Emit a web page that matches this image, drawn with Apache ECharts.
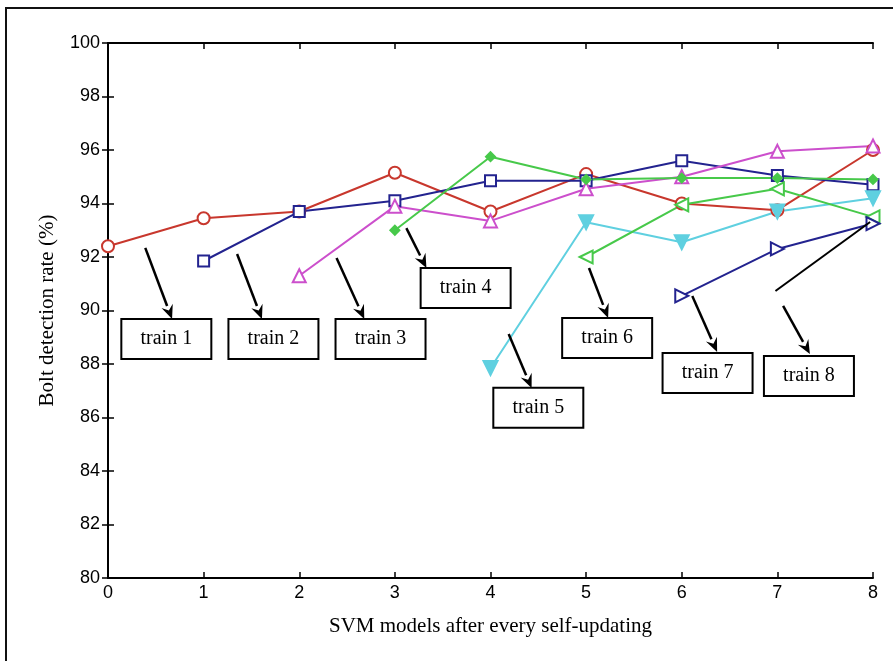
<!DOCTYPE html>
<html><head><meta charset="utf-8">
<script src="https://cdn.jsdelivr.net/npm/echarts@6/dist/echarts.min.js"></script>
<style>html,body{margin:0;padding:0;background:#fff}#c{width:893px;height:661px}</style>
</head><body><div id="c"></div>
<script>
const xTicks = [0,1,2,3,4,5,6,7,8];
const train1 = [[0,92.4],[1,93.45],[2,93.7],[3,95.15],[4,93.7],[5,95.1],[6,94.0],[7,93.75],[8,96.0]];
const train2 = [[1,91.85],[2,93.7],[3,94.1],[4,94.85],[5,94.85],[6,95.6],[7,95.05],[8,94.7]];
const train3 = [[2,91.3],[3,93.9],[4,93.35],[5,94.55],[6,95.0],[7,95.95],[8,96.15]];
const train4 = [[3,93.0],[4,95.75],[5,94.9],[6,94.95],[7,94.95],[8,94.9]];
const train5 = [[4,87.85],[5,93.3],[6,92.55],[7,93.7],[8,94.2]];
const train6 = [[5,92.0],[6,93.95],[7,94.55],[8,93.5]];
const train7 = [[6,90.55],[7,92.3],[8,93.25]];
const labels = ['train 1','train 2','train 3','train 4','train 5','train 6','train 7','train 8'];
// annotation anchors in data coordinates: box centre, arrow start, arrow end
const boxCentres = [[0.61,88.93],[1.73,88.93],[2.85,88.93],[3.74,90.84],[4.50,86.36],[5.22,88.97],[6.27,87.66],[7.33,87.55]];
const arrowFrom = [[0.39,92.34],[1.35,92.11],[2.39,91.96],[3.12,93.08],[4.19,89.12],[5.03,91.59],[6.11,90.54],[7.06,90.17]];
const arrowTo = [[0.67,89.68],[1.61,89.68],[2.68,89.68],[3.33,91.59],[4.43,87.10],[5.23,89.72],[6.37,88.45],[7.34,88.37]];
const extraLine = [[6.98,90.73],[7.97,93.31]];

const chart = echarts.init(document.getElementById('c'));
const sansAxisLabel = {color:'#000', fontFamily:'Liberation Sans', fontSize:18};
function ser(name, data, color, symbol, size, opts) {
  return Object.assign({
    name, type:'line', data, symbol, symbolSize:size,
    lineStyle:{color, width:2}, itemStyle:{color, borderColor:color, borderWidth:2},
    z:3, animation:false
  }, opts||{});
}
const option = {
  animation:false,
  backgroundColor:'#fff',
  grid:{left:108, right:20, top:43, bottom:83},
  xAxis:[{
    type:'value', min:0, max:8, interval:1, position:'bottom',
    axisLine:{lineStyle:{color:'#000', width:2}},
    axisTick:{inside:true, length:6, lineStyle:{color:'#000', width:1.5}},
    axisLabel:Object.assign({margin:6}, sansAxisLabel),
    splitLine:{show:false},
    name:'SVM models after every self-updating', nameLocation:'middle', nameGap:38,
    nameTextStyle:{color:'#000', fontFamily:'Liberation Serif', fontSize:21}
  },{
    type:'value', min:0, max:8, interval:1, position:'top',
    axisLine:{lineStyle:{color:'#000', width:2}},
    axisTick:{inside:true, length:6, lineStyle:{color:'#000', width:1.5}},
    axisLabel:{show:false}, splitLine:{show:false}
  }],
  yAxis:[{
    type:'value', min:80, max:100, interval:2, position:'left',
    axisLine:{show:true, lineStyle:{color:'#000', width:2}},
    axisTick:{show:true, inside:true, length:6, lineStyle:{color:'#000', width:1.5}},
    axisLabel:Object.assign({margin:8}, sansAxisLabel),
    splitLine:{show:false},
    name:'Bolt detection rate (%)', nameLocation:'middle', nameGap:50,
    nameTextStyle:{color:'#000', fontFamily:'Liberation Serif', fontSize:21}
  },{
    type:'value', min:80, max:100, interval:2, position:'right',
    axisLine:{show:true, lineStyle:{color:'#000', width:2}},
    axisTick:{show:true, inside:true, length:6, lineStyle:{color:'#000', width:1.5}},
    axisLabel:{show:false}, splitLine:{show:false}
  }],
  series:[
    ser('train 1', train1, '#c8372d', 'emptyCircle', 12),
    ser('train 2', train2, '#23238f', 'emptyRect', 11),
    ser('train 3', train3, '#cc4fcc', 'emptyTriangle', 13),
    ser('train 4', train4, '#47c94a', 'diamond', 9),
    ser('train 5', train5, '#5fd0e0', 'triangle', 14, {symbolRotate:180}),
    ser('train 6', train6, '#47c94a', 'emptyTriangle', 13, {symbolRotate:90}),
    ser('train 7', train7, '#23238f', 'emptyTriangle', 13, {symbolRotate:-90})
  ]
};
chart.setOption(option);

function px(p){ return chart.convertToPixel({xAxisIndex:0, yAxisIndex:0}, p); }
const g = [];
g.push({type:'rect', shape:{x:6, y:8, width:1000, height:1000}, style:{fill:'none', stroke:'#111', lineWidth:2}, z:0, silent:true});
for (let i=0;i<labels.length;i++){
  const c = px(boxCentres[i]);
  const w = 90, h = 40;
  g.push({type:'rect', shape:{x:c[0]-w/2, y:c[1]-h/2, width:w, height:h}, style:{fill:'#fff', stroke:'#000', lineWidth:2}, z:10});
  g.push({type:'text', x:c[0], y:c[1], style:{text:labels[i], fill:'#000', font:'20px "Liberation Serif"', align:'center', verticalAlign:'middle'}, z:11});
  const a = px(arrowFrom[i]), b = px(arrowTo[i]);
  const ang = Math.atan2(b[1]-a[1], b[0]-a[0]);
  const L = 14, W = 6;
  const bx = b[0]-L*Math.cos(ang), by = b[1]-L*Math.sin(ang);
  g.push({type:'line', shape:{x1:a[0], y1:a[1], x2:bx, y2:by}, style:{stroke:'#000', lineWidth:2.5}, z:10});
  g.push({type:'polygon', shape:{points:[[b[0],b[1]],[bx+W*Math.sin(ang), by-W*Math.cos(ang)],[bx+ (L*0.35)*Math.cos(ang), by+(L*0.35)*Math.sin(ang)],[bx-W*Math.sin(ang), by+W*Math.cos(ang)]]}, style:{fill:'#000'}, z:10});
}
const e1 = px(extraLine[0]), e2 = px(extraLine[1]);
g.push({type:'line', shape:{x1:e1[0], y1:e1[1], x2:e2[0], y2:e2[1]}, style:{stroke:'#000', lineWidth:2}, z:10});
chart.setOption({graphic:g});
</script></body></html>
